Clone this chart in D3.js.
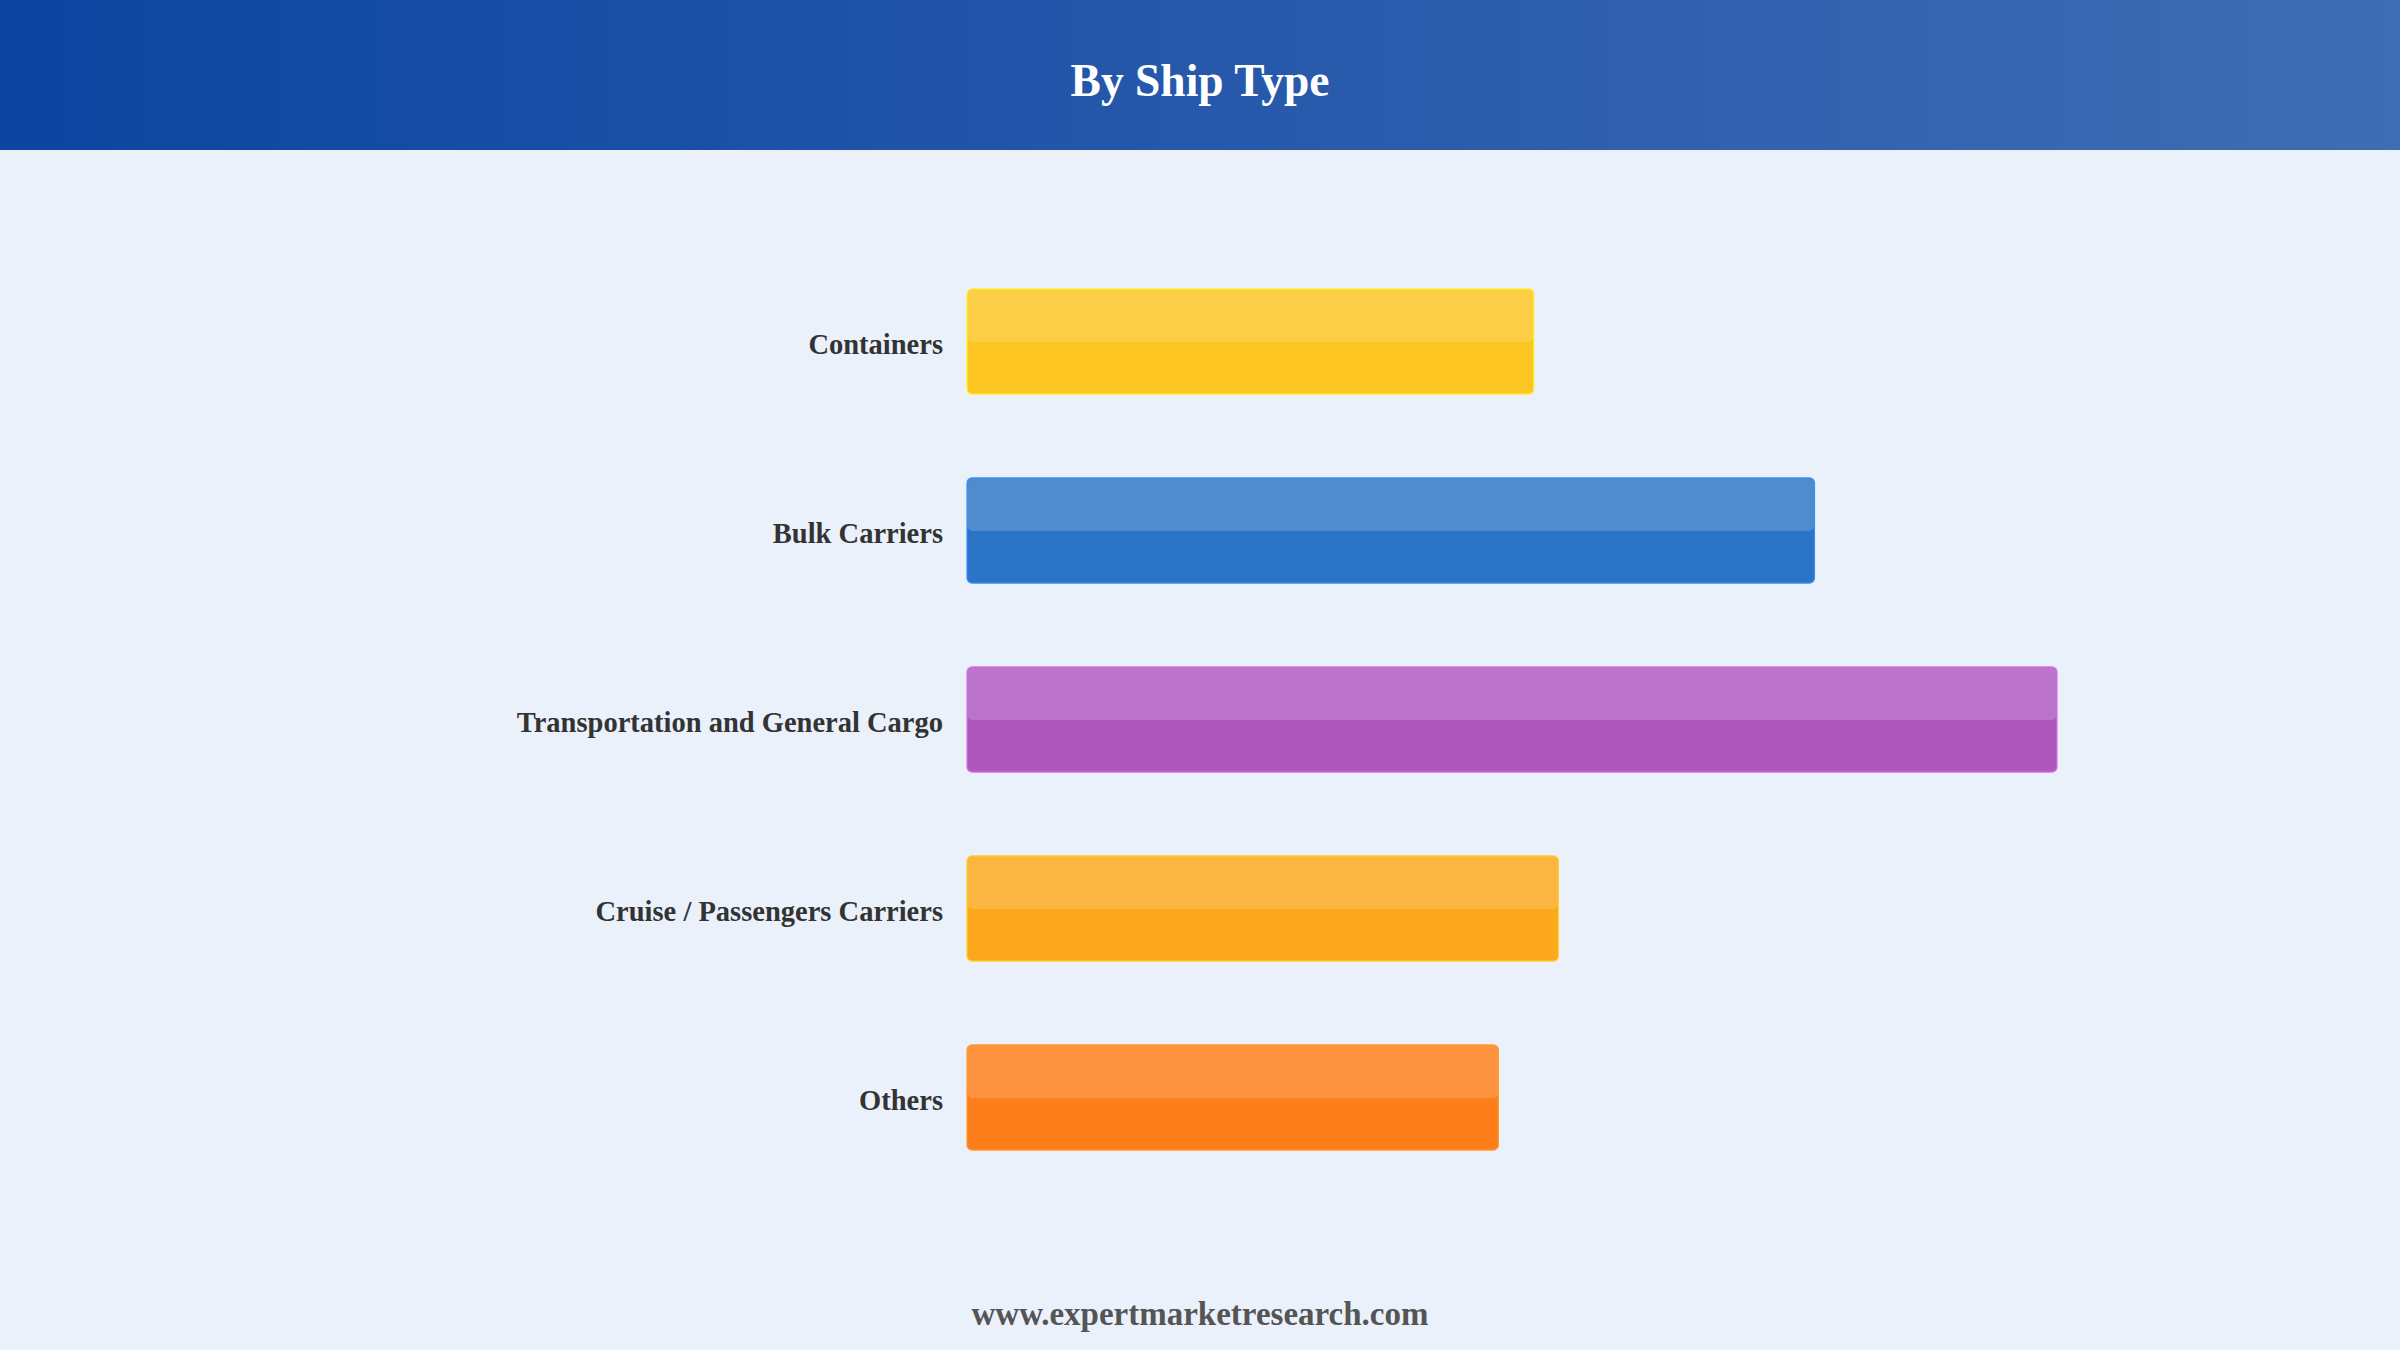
<!DOCTYPE html>
<html>
<head>
<meta charset="utf-8">
<script src="https://cdn.jsdelivr.net/npm/d3@7"></script>
<style>
  html, body { margin: 0; padding: 0; background: #EAF1FB; }
  svg { display: block; }
</style>
</head>
<body>
<div id="chart"></div>
<script>
const title = "By Ship Type";
const footer = "www.expertmarketresearch.com";
const categories = ["Containers", "Bulk Carriers", "Transportation and General Cargo", "Cruise / Passengers Carriers", "Others"];
const values = [20.8, 31.1, 40.0, 21.7, 19.5];
const colors = ["#FCC521", "#2B74C6", "#AE58BE", "#FBA81C", "#FE7E1C"];

const W = 2400, H = 1350;
const svg = d3.select("#chart").append("svg").attr("width", W).attr("height", H);

const defs = svg.append("defs");
const grad = defs.append("linearGradient").attr("id", "hdr").attr("x1", "0%").attr("x2", "100%");
grad.append("stop").attr("offset", "0%").attr("stop-color", "#0C45A0");
grad.append("stop").attr("offset", "50%").attr("stop-color", "#2658AB");
grad.append("stop").attr("offset", "100%").attr("stop-color", "#3F6DB4");

svg.append("rect").attr("width", W).attr("height", H).attr("fill", "#EAF1FB");
svg.append("rect").attr("width", W).attr("height", 150).attr("fill", "url(#hdr)");
svg.append("text").attr("x", W / 2).attr("y", 96).attr("text-anchor", "middle")
  .attr("font-family", "'Liberation Serif', 'Times New Roman', serif").attr("font-weight", "bold")
  .attr("font-size", 45.5).attr("fill", "#ffffff").text(title);

const x = d3.scaleLinear().domain([0, d3.max(values)]).range([967, 2057]);
const y = d3.scaleBand().domain(categories).range([247, 1192]).paddingInner(0.444).paddingOuter(0.222);

const data = categories.map((c, i) => ({ c, v: values[i], col: colors[i] }));

const g = svg.append("g");
const bars = g.selectAll("g.bar").data(data).join("g").attr("class", "bar");
bars.append("rect")
  .attr("x", x(0)).attr("y", d => y(d.c))
  .attr("width", d => x(d.v) - x(0)).attr("height", y.bandwidth())
  .attr("rx", 5).attr("ry", 5)
  .attr("fill", d => d.col)
  .attr("stroke", d => d3.color(d.col).brighter(0.6)).attr("stroke-width", 1.2);
bars.append("rect")
  .attr("x", x(0) + 0.5).attr("y", d => y(d.c) + 0.5)
  .attr("width", d => x(d.v) - x(0) - 1).attr("height", y.bandwidth() / 2)
  .attr("rx", 5).attr("ry", 5)
  .attr("fill", "#ffffff").attr("fill-opacity", 0.17);

g.selectAll("text.lbl").data(data).join("text").attr("class", "lbl")
  .attr("x", 943).attr("y", d => y(d.c) + y.bandwidth() / 2 + 12)
  .attr("text-anchor", "end")
  .attr("font-family", "'Liberation Serif', 'Times New Roman', serif").attr("font-weight", "bold")
  .attr("font-size", 28.5).attr("fill", "#333333").text(d => d.c);

svg.append("text").attr("x", W / 2).attr("y", 1325).attr("text-anchor", "middle")
  .attr("font-family", "'Liberation Serif', 'Times New Roman', serif").attr("font-weight", "bold")
  .attr("font-size", 33).attr("fill", "#555555").text(footer);
</script>
</body>
</html>
